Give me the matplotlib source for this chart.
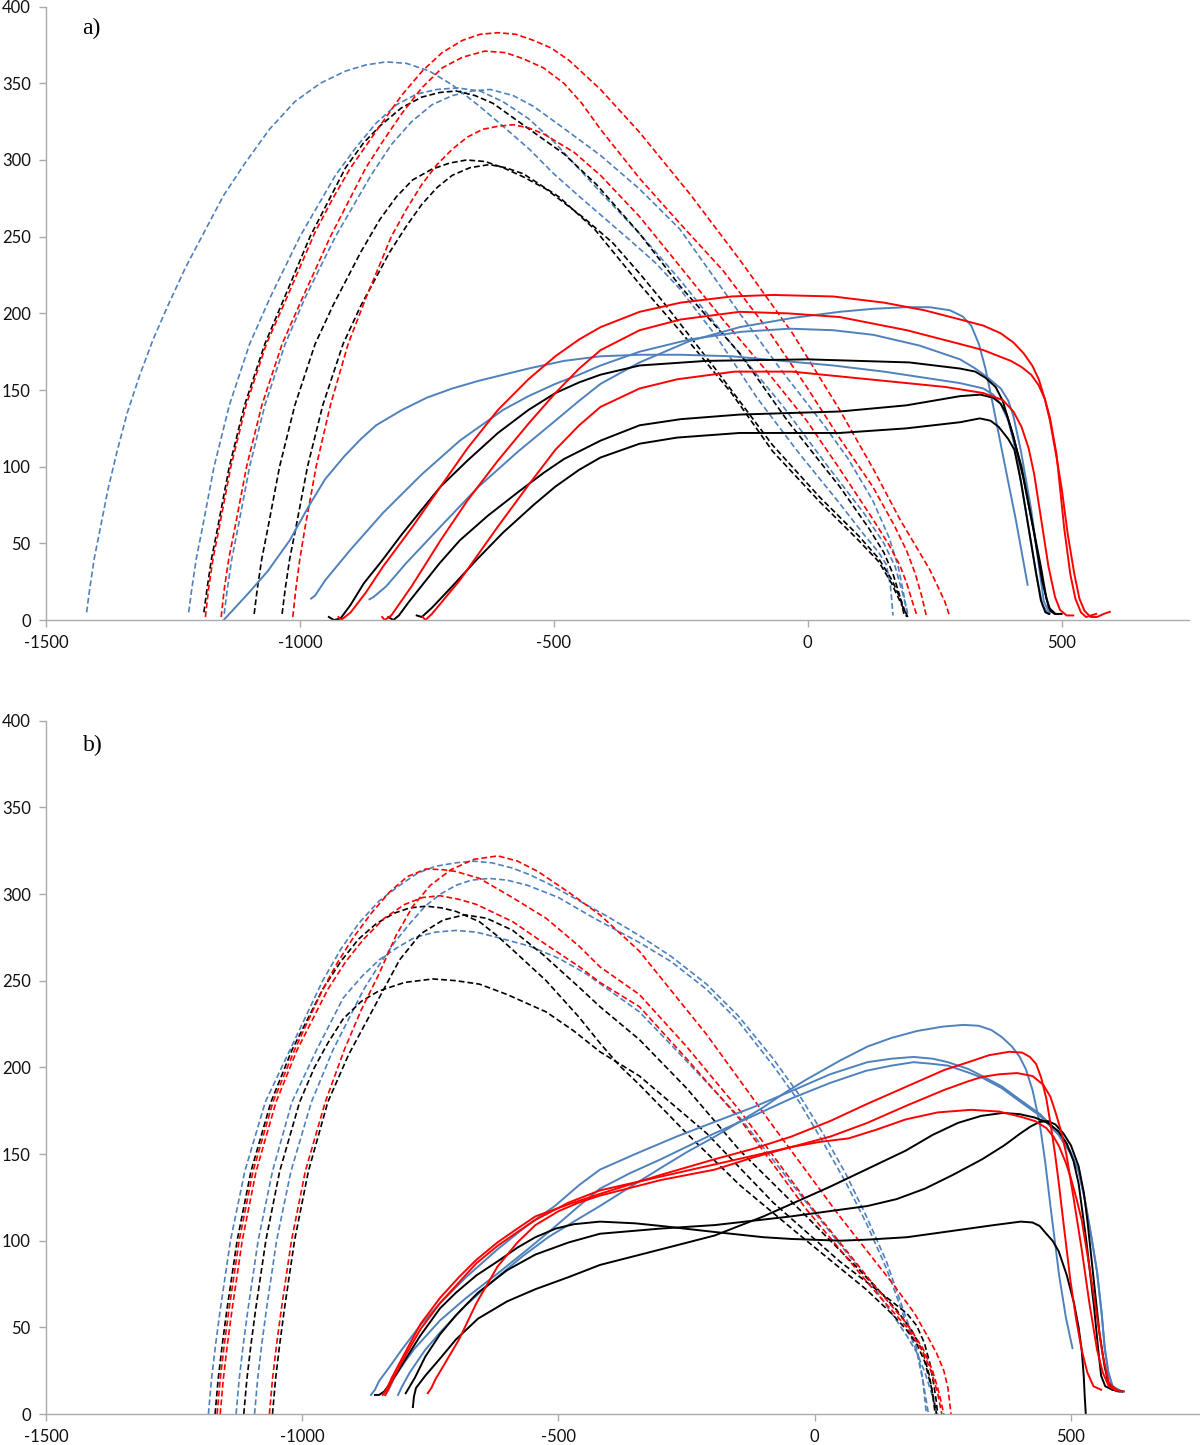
import matplotlib
matplotlib.use("Agg")
import matplotlib.pyplot as plt

BLUE = "#4F81BD"
RED = "#FF0000"
BLACK = "#000000"
AXIS_GREY = "#ABABAB"

x_ticks = [-1500, -1000, -500, 0, 500]
x_tick_labels = ["-1500", "-1000", "-500", "0", "500"]
y_ticks = [0, 50, 100, 150, 200, 250, 300, 350, 400]
y_tick_labels = ["0", "50", "100", "150", "200", "250", "300", "350", "400"]
panel_labels = ["a)", "b)"]

# ---------------- panel a ----------------
# each curve is a list of (x, y) points
a_blue_dashed = [
    [(-1420, 5), (-1414, 20), (-1405, 40), (-1393, 60), (-1378, 85), (-1360, 110), (-1340, 135),
     (-1315, 160), (-1289, 183), (-1260, 205), (-1225, 230), (-1190, 252), (-1150, 277),
     (-1110, 297), (-1060, 320), (-1010, 338), (-960, 350), (-910, 358), (-870, 362), (-830, 364),
     (-790, 363), (-745, 358), (-700, 349), (-646, 335), (-600, 322), (-548, 307), (-500, 291),
     (-449, 276), (-400, 262), (-351, 248), (-300, 233), (-252, 216), (-180, 185), (-100, 145),
     (-20, 110), (63, 76), (110, 56), (140, 44), (155, 36), (163, 22), (168, 3)],
    [(-1219, 5), (-1213, 20), (-1204, 40), (-1192, 60), (-1169, 100), (-1139, 140), (-1099, 180),
     (-1059, 210), (-1000, 250), (-930, 290), (-890, 308), (-850, 324), (-810, 336), (-770, 343),
     (-730, 346), (-690, 347), (-645, 345), (-600, 338), (-550, 327), (-500, 312), (-408, 279),
     (-331, 252), (-252, 222), (-150, 180), (-50, 140), (40, 100), (110, 70), (150, 50),
     (172, 35), (188, 16), (198, 3)],
    [(-1149, 4), (-1143, 20), (-1134, 40), (-1122, 60), (-1099, 100), (-1069, 140), (-1029, 180),
     (-990, 210), (-930, 250), (-860, 290), (-820, 310), (-780, 325), (-740, 336), (-700, 342),
     (-660, 345), (-625, 346), (-580, 342), (-540, 335), (-490, 323), (-449, 313), (-408, 303),
     (-331, 281), (-252, 255), (-134, 200), (-50, 162), (30, 128), (80, 105), (128, 78),
     (160, 54), (178, 35), (189, 17), (196, 4)],
]
a_black_dashed = [
    [(-1189, 5), (-1183, 20), (-1174, 40), (-1162, 60), (-1139, 100), (-1109, 140), (-1069, 180),
     (-1032, 209), (-980, 250), (-910, 295), (-875, 311), (-843, 322), (-800, 334), (-760, 341),
     (-725, 344), (-692, 345), (-655, 342), (-620, 337), (-548, 320), (-480, 304), (-416, 284),
     (-331, 252), (-252, 218), (-134, 174), (-40, 130), (63, 87), (120, 60), (150, 44),
     (168, 30), (182, 15), (190, 3)],
    [(-1090, 4), (-1084, 20), (-1075, 40), (-1063, 60), (-1040, 100), (-1010, 140), (-970, 180),
     (-935, 205), (-880, 240), (-843, 261), (-810, 276), (-778, 287), (-740, 294), (-705, 298),
     (-672, 300), (-635, 299), (-600, 295), (-560, 289), (-515, 281), (-440, 262), (-384, 246),
     (-331, 226), (-286, 208), (-180, 163), (-69, 114), (24, 80), (100, 55), (140, 40),
     (166, 26), (185, 12), (195, 2)],
    [(-1035, 4), (-1029, 20), (-1020, 40), (-1008, 60), (-985, 100), (-955, 140), (-915, 180),
     (-880, 205), (-823, 240), (-790, 257), (-760, 271), (-730, 282), (-700, 290), (-665, 295),
     (-627, 297), (-595, 295), (-560, 291), (-490, 276), (-420, 255), (-331, 219), (-250, 188),
     (-150, 148), (-69, 110), (24, 77), (100, 52), (140, 38), (165, 24), (185, 10), (197, 2)],
]
a_red_dashed = [
    [(-1186, 2), (-1180, 20), (-1171, 40), (-1159, 60), (-1136, 100), (-1106, 140), (-1066, 180),
     (-1026, 210), (-970, 253), (-935, 275), (-900, 295), (-843, 322), (-800, 342), (-759, 358),
     (-720, 370), (-680, 378), (-645, 382), (-610, 383), (-575, 382), (-540, 378), (-505, 373),
     (-470, 365), (-408, 346), (-331, 318), (-230, 277), (-134, 235), (-30, 187), (63, 137),
     (130, 98), (181, 66), (215, 47), (240, 33), (256, 22), (270, 12), (280, 2)],
    [(-1155, 2), (-1149, 20), (-1140, 40), (-1128, 60), (-1105, 100), (-1075, 140), (-1035, 180),
     (-995, 210), (-940, 250), (-870, 295), (-835, 313), (-800, 330), (-760, 347), (-720, 360),
     (-680, 367), (-636, 371), (-595, 370), (-560, 366), (-520, 360), (-480, 350), (-445, 337),
     (-408, 320), (-331, 288), (-250, 258), (-167, 228), (-80, 190), (-2, 152), (60, 120),
     (128, 87), (170, 62), (195, 45), (212, 30), (225, 15), (234, 2)],
    [(-1014, 2), (-1008, 20), (-1000, 40), (-990, 60), (-968, 100), (-940, 140), (-905, 180),
     (-870, 210), (-820, 250), (-790, 268), (-760, 284), (-730, 297), (-700, 307), (-670, 315),
     (-640, 320), (-610, 322), (-580, 323), (-550, 321), (-520, 317), (-460, 305), (-408, 290),
     (-331, 263), (-250, 230), (-167, 196), (-80, 162), (-2, 130), (60, 100), (128, 66),
     (160, 49), (181, 36), (195, 24), (206, 12), (214, 4)],
]
a_blue_solid = [
    [(-1150, 0), (-1125, 9), (-1100, 18), (-1063, 32), (-1020, 52), (-983, 74), (-950, 92),
     (-912, 107), (-880, 118), (-850, 127), (-799, 137), (-750, 145), (-700, 151), (-648, 156),
     (-550, 164), (-480, 169), (-408, 172), (-331, 173), (-250, 173), (-150, 172), (-50, 169),
     (50, 166), (150, 162), (250, 157), (300, 154.5), (346, 151), (365, 147), (380, 141),
     (395, 130), (405, 117), (415, 100), (435, 60), (450, 30), (462, 10), (474, 4)],
    [(-978, 14), (-970, 16), (-950, 26), (-900, 46), (-836, 70), (-760, 95), (-685, 117),
     (-600, 137), (-550, 146), (-497, 154), (-450, 160), (-408, 166), (-331, 175), (-232, 183),
     (-130, 188), (-35, 190), (50, 189), (129, 186), (220, 179), (300, 170), (330, 164),
     (355, 158), (380, 151), (395, 143), (405, 133), (420, 110), (440, 72), (455, 36),
     (465, 12), (476, 5)],
    [(-863, 13.5), (-855, 15), (-830, 22), (-791, 37), (-720, 62), (-648, 87), (-570, 110),
     (-497, 130), (-450, 143), (-408, 154), (-331, 168), (-232, 182), (-134, 191), (-30, 197),
     (63, 201), (130, 203), (194, 204), (240, 204), (280, 202), (305, 198), (322, 192),
     (337, 180), (350, 164), (365, 140), (384, 108), (410, 65), (433, 23)],
]
a_black_solid = [
    [(-943, 2), (-933, 0), (-920, 1), (-900, 10), (-874, 24), (-840, 38), (-799, 56), (-760, 72),
     (-723, 87), (-670, 104), (-610, 122), (-550, 137), (-497, 148), (-450, 155), (-408, 160),
     (-331, 166), (-200, 169), (0, 170), (200, 168), (300, 164), (330, 162), (350, 158),
     (370, 152), (384, 143), (400, 125), (421, 100), (440, 67), (459, 35), (470, 14),
     (478, 6), (486, 4), (493, 4)],
    [(-826, 2), (-816, 0), (-805, 3), (-785, 12), (-761, 22), (-725, 37), (-685, 52), (-630, 68),
     (-572, 83), (-520, 96), (-480, 105), (-408, 117), (-331, 127), (-250, 131), (-134, 134),
     (63, 136), (194, 140), (300, 146), (340, 147), (365, 145), (380, 141), (392, 134),
     (405, 120), (425, 92), (445, 58), (462, 25), (475, 8), (488, 4), (500, 4)],
    [(-770, 3), (-760, 2), (-740, 8), (-700, 22), (-650, 40), (-600, 57), (-540, 75),
     (-497, 87), (-450, 98), (-408, 106), (-331, 115), (-257, 119), (-134, 122), (63, 122),
     (194, 125), (300, 129), (339, 131.5), (360, 130), (376, 126), (395, 118), (407, 111),
     (420, 90), (437, 56), (450, 30), (459, 13), (468, 5), (476, 4)],
]
a_red_solid = [
    [(-924, 2), (-919, 0), (-900, 5), (-870, 18), (-836, 35), (-780, 60), (-723, 87),
     (-670, 112), (-610, 137), (-550, 157), (-497, 172), (-450, 183), (-408, 191), (-331, 201),
     (-250, 207), (-150, 211), (-68, 212), (50, 211), (150, 207), (230, 202), (300, 196),
     (346, 192), (380, 187), (405, 181), (425, 174), (442, 166), (455, 157), (467, 144),
     (477, 130), (490, 106), (500, 86), (512, 56), (525, 30), (535, 14), (545, 6), (557, 2),
     (570, 2), (583, 4), (595, 5.4)],
    [(-838, 2), (-833, 0), (-820, 3), (-780, 22), (-723, 52), (-670, 78), (-610, 104),
     (-550, 128), (-497, 148), (-450, 164), (-408, 176), (-331, 189), (-250, 196), (-134, 201),
     (-40, 200), (63, 197.6), (195, 189), (300, 180), (346, 176), (400, 169), (421, 165),
     (440, 160), (455, 153), (467, 144), (477, 132), (490, 108), (505, 60), (517, 30),
     (527, 14), (538, 5), (548, 2), (558, 3), (568, 4)],
    [(-758, 2), (-753, 0), (-740, 4), (-685, 26), (-610, 61), (-550, 88), (-497, 111),
     (-450, 127), (-408, 139), (-331, 151), (-257, 157), (-144, 162), (-31, 162), (120, 157),
     (271, 152), (346, 148), (384, 143.5), (405, 136), (421, 126), (435, 112), (446, 95),
     (460, 65), (474, 35), (487, 15), (497, 6.5), (510, 3), (523, 3)],
]

# ---------------- panel b ----------------
b_blue_dashed = [
    [(-1183, 0), (-1177, 20), (-1169, 40), (-1160, 60), (-1140, 100), (-1112, 140), (-1072, 180),
     (-1024, 210), (-960, 250), (-925, 268), (-890, 283), (-850, 296), (-810, 305), (-775, 312),
     (-740, 316), (-700, 318), (-667, 319), (-630, 318), (-590, 315), (-555, 311), (-520, 306),
     (-459, 296), (-404, 287), (-342, 276), (-280, 264), (-211, 248), (-150, 230), (-81, 205),
     (-30, 184), (16, 162), (60, 139), (101, 114), (140, 88), (166, 66), (185, 50), (199, 38),
     (210, 22), (218, 0)],
    [(-1093, 0), (-1087, 20), (-1079, 40), (-1070, 60), (-1050, 100), (-1022, 140), (-982, 180),
     (-940, 210), (-880, 245), (-850, 259), (-820, 272), (-790, 283), (-760, 293), (-730, 300),
     (-700, 305), (-670, 308), (-635, 309), (-600, 308), (-560, 305), (-500, 298), (-430, 286),
     (-342, 272), (-280, 261), (-211, 245), (-150, 227), (-81, 201), (-30, 180), (16, 157),
     (60, 134), (101, 110), (140, 84), (166, 63), (186, 46), (200, 35), (212, 18), (222, 0)],
    [(-1129, 0), (-1123, 20), (-1115, 40), (-1106, 60), (-1086, 100), (-1058, 140), (-1020, 180),
     (-972, 210), (-920, 240), (-885, 252), (-850, 262), (-815, 269), (-780, 275), (-740, 278),
     (-700, 279), (-660, 278), (-620, 275), (-557, 270), (-500, 263), (-446, 254), (-342, 232),
     (-264, 208), (-146, 171), (-16, 122), (114, 74), (155, 56), (180, 45), (200, 35),
     (215, 24), (228, 12), (238, 0)],
]
b_black_dashed = [
    [(-1170, 0), (-1164, 20), (-1156, 40), (-1147, 60), (-1127, 100), (-1100, 140), (-1061, 180),
     (-1020, 210), (-960, 245), (-925, 261), (-890, 274), (-855, 283), (-820, 289), (-790, 292),
     (-758, 293), (-728, 292), (-700, 290), (-654, 284), (-620, 276), (-590, 268), (-524, 250),
     (-460, 229), (-419, 214), (-381, 201), (-342, 190), (-250, 162), (-146, 132), (-16, 100),
     (100, 72), (150, 58), (178, 49), (200, 40), (215, 30), (228, 15), (238, 0)],
    [(-1058, 0), (-1052, 20), (-1044, 40), (-1035, 60), (-1015, 100), (-988, 140), (-950, 180),
     (-910, 207), (-850, 240), (-810, 262), (-769, 277), (-725, 285), (-683, 288), (-640, 286),
     (-589, 279), (-530, 265), (-459, 246), (-419, 235), (-342, 216), (-250, 188), (-146, 152),
     (-16, 114), (114, 75), (160, 60), (190, 48), (211, 36), (224, 22), (231, 10), (235, 0)],
    [(-1114, 0), (-1108, 20), (-1100, 40), (-1091, 60), (-1071, 100), (-1044, 140), (-1005, 180),
     (-976, 200), (-950, 214), (-920, 228), (-885, 238), (-851, 244), (-800, 249), (-745, 251),
     (-700, 250), (-654, 248), (-600, 242), (-524, 232), (-470, 221), (-419, 209), (-342, 195),
     (-211, 162), (-81, 122), (49, 88), (146, 66), (180, 58), (199, 51), (214, 41), (225, 29),
     (233, 16), (237, 8), (240, 0)],
]
b_red_dashed = [
    [(-1064, 0), (-1058, 20), (-1050, 40), (-1041, 60), (-1021, 100), (-994, 140), (-955, 180),
     (-918, 210), (-885, 233), (-850, 254), (-817, 276), (-784, 293), (-750, 305), (-710, 314),
     (-665, 320), (-618, 322), (-580, 319), (-540, 313), (-480, 301), (-419, 288), (-342, 267),
     (-211, 219), (-81, 166), (49, 114), (153, 75), (195, 58), (218, 46), (238, 35),
     (252, 25), (260, 15), (266, 0)],
    [(-1166, 0), (-1160, 20), (-1152, 40), (-1143, 60), (-1123, 100), (-1096, 140), (-1057, 180),
     (-1015, 210), (-960, 245), (-930, 261), (-900, 275), (-865, 289), (-830, 301), (-795, 310),
     (-758, 314.5), (-725, 314), (-700, 313), (-654, 309), (-590, 298), (-524, 286), (-460, 270),
     (-419, 258), (-342, 242), (-250, 212), (-146, 175), (-16, 123), (114, 75), (180, 52),
     (211, 38), (230, 25), (242, 13), (252, 0)],
    [(-1160, 0), (-1154, 20), (-1146, 40), (-1137, 60), (-1117, 100), (-1090, 140), (-1051, 180),
     (-1010, 210), (-950, 245), (-915, 261), (-880, 274), (-840, 286), (-800, 294), (-765, 298),
     (-731, 299), (-695, 297), (-660, 294), (-589, 284), (-520, 270), (-459, 258), (-419, 249),
     (-342, 235), (-250, 205), (-146, 170), (-16, 118), (114, 72), (180, 50), (211, 36),
     (228, 24), (240, 12), (248, 0)],
]
b_blue_solid = [
    [(-866, 11), (-858, 14), (-850, 19), (-830, 27), (-806, 37), (-770, 51), (-731, 64),
     (-680, 79), (-619, 95), (-560, 109), (-507, 120), (-460, 132), (-419, 141), (-350, 150),
     (-270, 160), (-200, 168), (-120, 177), (-40, 187), (30, 196), (103, 203), (150, 205),
     (193, 206), (230, 205), (260, 203), (300, 199), (327, 195), (365, 189), (402, 181),
     (440, 173), (476, 162), (500, 151), (515, 140), (527, 124), (540, 102), (551, 82),
     (560, 58), (566, 38), (573, 24), (581, 16), (590, 13), (603, 13)],
    [(-838, 11), (-830, 15), (-820, 21), (-800, 30), (-780, 38), (-731, 54), (-680, 67),
     (-619, 81), (-560, 95), (-507, 108), (-460, 120), (-419, 130), (-360, 139), (-300, 147),
     (-195, 162), (-120, 172), (-46, 182), (30, 191), (100, 198), (150, 201), (193, 203),
     (230, 202), (260, 201), (300, 197), (327, 194), (365, 188), (402, 180), (440, 172),
     (476, 161), (500, 150), (515, 140), (527, 124), (540, 102), (551, 82), (560, 58),
     (566, 38), (573, 24), (581, 16), (600, 13)],
    [(-813, 11), (-805, 16), (-790, 24), (-760, 37), (-731, 47), (-680, 63), (-619, 79),
     (-570, 91), (-520, 102), (-470, 111), (-419, 120), (-360, 131), (-300, 142), (-250, 151),
     (-195, 160), (-150, 168), (-100, 177), (-60, 185), (-16, 193), (50, 204), (103, 212),
     (150, 217), (200, 221), (250, 223.5), (290, 224.5), (320, 224), (345, 221.5),
     (365, 217.5), (385, 212), (400, 206), (412, 199), (425, 187), (439, 168), (450, 145),
     (460, 120), (477, 80), (490, 56), (503, 38)],
]
b_black_solid = [
    [(-858, 11), (-850, 11), (-840, 13), (-825, 19), (-806, 28), (-770, 45), (-731, 61),
     (-700, 70), (-660, 80), (-619, 88), (-580, 96), (-545, 102), (-505, 107), (-470, 109.5),
     (-419, 111), (-350, 110), (-300, 108.5), (-195, 105), (-100, 102), (-46, 101), (50, 100),
     (103, 100.6), (180, 102), (253, 105), (350, 109), (402, 111), (425, 110.5), (439, 108.5),
     (452, 104), (464, 100), (476, 94), (492, 80), (506, 64), (515, 50), (521, 37),
     (525, 22), (527, 10), (529, 0)],
    [(-798, 12), (-790, 16), (-780, 21), (-760, 33), (-731, 46), (-700, 57), (-657, 70),
     (-600, 83), (-545, 92), (-480, 99), (-419, 104), (-300, 107), (-195, 109), (-46, 114),
     (103, 120), (160, 124), (215, 130), (270, 138), (327, 147), (370, 155), (402, 162),
     (422, 166), (439, 168.5), (455, 169), (470, 167), (485, 162), (500, 155), (515, 143),
     (525, 128), (532, 112), (545, 76), (556, 46), (566, 27), (573, 18), (581, 14),
     (600, 13)],
    [(-784, 4), (-782, 10), (-778, 15), (-760, 22), (-731, 32), (-700, 43), (-657, 55),
     (-600, 65), (-545, 72), (-480, 79), (-419, 86), (-300, 95), (-195, 103), (-100, 114),
     (29, 131), (100, 141), (178, 152), (230, 161), (280, 168), (325, 172), (367, 173.7),
     (400, 173), (430, 171), (455, 168), (476, 163), (492, 156), (505, 146), (515, 133),
     (530, 100), (545, 62), (553, 38), (559, 22), (567, 16), (581, 14), (595, 13)],
]
b_red_solid = [
    [(-843, 11), (-836, 14), (-825, 21), (-800, 35), (-769, 52), (-731, 67), (-694, 79),
     (-660, 89), (-619, 99), (-580, 107), (-545, 114), (-480, 121), (-419, 127), (-300, 138),
     (-195, 147), (-120, 153), (-46, 160), (30, 169), (103, 179), (180, 189), (253, 198.5),
     (300, 203), (340, 207), (380, 209), (405, 208.5), (420, 206), (432, 202), (442, 194),
     (452, 182), (461, 166), (469, 150), (476, 134), (488, 104), (499, 77), (510, 55),
     (521, 37), (532, 24), (544, 16), (559, 14)],
    [(-838, 11), (-832, 14), (-825, 19), (-800, 33), (-769, 49), (-731, 64), (-694, 76),
     (-660, 87), (-619, 97), (-580, 105), (-545, 112), (-480, 122), (-419, 129), (-300, 137),
     (-195, 144), (-120, 149), (-46, 154), (30, 160), (103, 168), (180, 178), (253, 187),
     (300, 192), (327, 194.5), (360, 196), (395, 196.7), (425, 195), (446, 190), (460, 183),
     (470, 174), (481, 163), (491, 150), (505, 125), (521, 95), (536, 64), (551, 37),
     (562, 24), (574, 16), (588, 13.5), (603, 13)],
    [(-755, 12), (-748, 15), (-740, 20), (-720, 30), (-694, 43), (-660, 64), (-619, 85),
     (-580, 99), (-545, 109), (-500, 117), (-460, 122), (-419, 126), (-300, 135), (-195, 141),
     (-120, 148), (-46, 154), (10, 157), (66, 159), (120, 164), (178, 170), (240, 174),
     (305, 175.5), (360, 174.5), (402, 171.5), (430, 169), (452, 165), (466, 160), (476, 155),
     (490, 145), (500, 136), (511, 124), (521, 112), (536, 85), (551, 56), (562, 34),
     (574, 18), (589, 14)],
]

panels = [
    (a_blue_dashed, a_black_dashed, a_red_dashed, a_blue_solid, a_black_solid, a_red_solid),
    (b_blue_dashed, b_black_dashed, b_red_dashed, b_blue_solid, b_black_solid, b_red_solid),
]

fig = plt.figure(figsize=(12, 14.45), dpi=100)
ax_a = fig.add_axes([0.0383, 0.5709, 0.9522, 0.4245])
ax_b = fig.add_axes([0.0383, 0.02145, 0.9609, 0.4798])

dash = (0, (3.5, 1.8))

for ax, groups, label in zip([ax_a, ax_b], panels, panel_labels):
    blue_d, black_d, red_d, blue_s, black_s, red_s = groups
    for curves, color, ls, lw in [
        (blue_d, BLUE, dash, 1.2),
        (black_d, BLACK, dash, 1.2),
        (red_d, RED, dash, 1.2),
        (blue_s, BLUE, "-", 1.4),
        (black_s, BLACK, "-", 1.4),
        (red_s, RED, "-", 1.4),
    ]:
        for curve in curves:
            xs, ys = zip(*curve)
            ax.plot(xs, ys, color=color, linestyle=ls, linewidth=lw,
                    solid_joinstyle="round", dash_joinstyle="round")

    ax.set_xlim(-1500, 750)
    ax.set_ylim(0, 400)
    ax.set_xticks(x_ticks, labels=x_tick_labels)
    ax.set_yticks(y_ticks, labels=y_tick_labels)
    for side in ["top", "right"]:
        ax.spines[side].set_visible(False)
    for side in ["left", "bottom"]:
        ax.spines[side].set_color(AXIS_GREY)
        ax.spines[side].set_linewidth(1.0)
    ax.tick_params(direction="out", length=5, width=1.0, color=AXIS_GREY,
                   labelsize=12, labelcolor="#111111", pad=6)
    for t in ax.get_xticklabels() + ax.get_yticklabels():
        t.set_family(["Lato", "DejaVu Sans"])
    ax.text(0.032, 0.965, label, transform=ax.transAxes, fontsize=17,
            family=["Liberation Serif", "DejaVu Serif"], va="center", ha="left")

fig.savefig("out.png", dpi=100)
